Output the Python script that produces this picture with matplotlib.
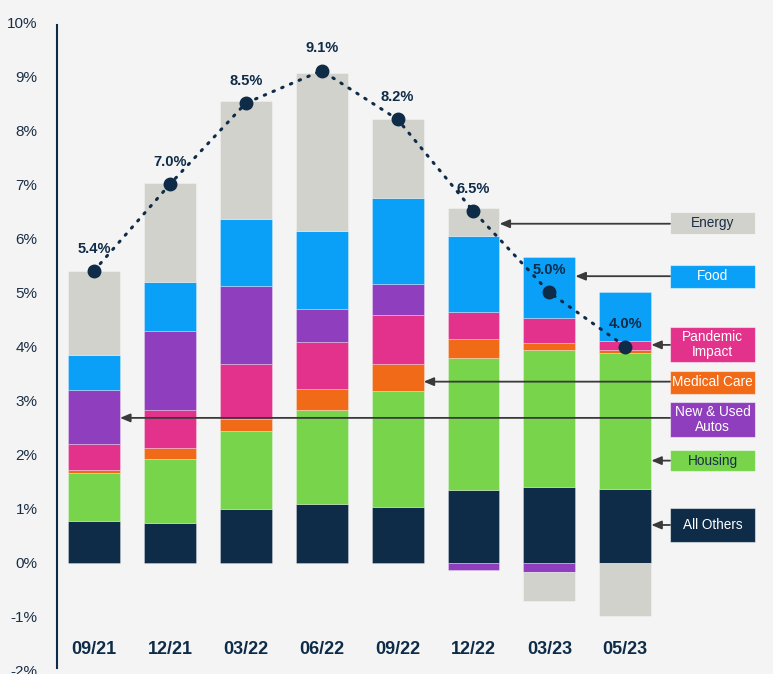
import numpy as np
import matplotlib
matplotlib.use("Agg")
import matplotlib.pyplot as plt
from matplotlib.patches import Rectangle

plt.rcParams['font.family'] = ['Liberation Sans', 'DejaVu Sans']

# data (percentage-point contributions to CPI)
periods = ['09/21', '12/21', '03/22', '06/22', '09/22', '12/22', '03/23', '05/23']
all_others = [0.77, 0.73, 0.99, 1.08, 1.04, 1.35, 1.40, 1.37]
housing    = [0.90, 1.19, 1.44, 1.75, 2.13, 2.43, 2.54, 2.51]
medical    = [0.04, 0.20, 0.23, 0.39, 0.51, 0.35, 0.12, 0.06]
pandemic   = [0.48, 0.70, 1.01, 0.86, 0.90, 0.51, 0.47, 0.16]
autos      = [1.00, 1.47, 1.45, 0.61, 0.58, -0.14, -0.17, 0.00]
food       = [0.65, 0.90, 1.24, 1.44, 1.58, 1.41, 1.13, 0.90]
energy     = [1.55, 1.83, 2.18, 2.93, 1.46, 0.52, -0.54, -0.98]
headline   = [5.4, 7.0, 8.5, 9.1, 8.2, 6.5, 5.0, 4.0]

series_names = ['All Others', 'Housing', 'Medical Care', 'Pandemic\nImpact',
                'New & Used\nAutos', 'Food', 'Energy']
series = [all_others, housing, medical, pandemic, autos, food, energy]
colors = ['#0e2b47', '#77d44b', '#f06a18', '#e2328c', '#8f3fbd', '#0aa0f8', '#d2d2cc']
text_colors = ['white', '#1b2e45', 'white', 'white', 'white', 'white', '#1b2e45']

navy = '#0e2b47'
bg = '#f4f4f4'

fig = plt.figure(figsize=(7.73, 6.74), dpi=100, facecolor=bg)
ax = fig.add_axes([57 / 773, 3 / 674, 716 / 773, 649 / 674])
ax.set_facecolor(bg)

x = np.arange(len(periods))
w = 0.685
pos_base = np.zeros(len(periods))
neg_base = np.zeros(len(periods))
for vals, c in zip(series, colors):
    vals = np.array(vals)
    bottom = np.where(vals >= 0, pos_base, neg_base)
    ax.bar(x, vals, w, bottom=bottom, color=c, edgecolor=(1, 1, 1, 0.35),
           linewidth=0.6, zorder=2)
    pos_base += np.where(vals >= 0, vals, 0)
    neg_base += np.where(vals < 0, vals, 0)

# headline CPI line
ax.plot(x, headline, color=navy, linestyle=(0, (0.5, 2.6)), linewidth=2.2,
        dash_capstyle='round', zorder=4)
ax.plot(x, headline, 'o', color=navy, markersize=9, zorder=5)
for xi, v in zip(x, headline):
    ax.annotate(f'{v:.1f}%', (xi, v), xytext=(0, 16), textcoords='offset points',
                ha='center', va='center', fontsize=10.5, fontweight='bold',
                color=navy, zorder=6)

# category labels
for xi, p in zip(x, periods):
    ax.text(xi, -1.6, p, ha='center', va='center', fontsize=13,
            fontweight='bold', color=navy)

# legend boxes with arrows
box_x0, box_x1 = 7.589, 8.709
box_y = [0.70, 1.89, 3.34, 4.04, 2.65, 5.30, 6.28]
box_h = [0.63, 0.39, 0.43, 0.65, 0.65, 0.43, 0.41]
arrow_bar = [7, 7, 4, 7, 0, 6, 5]
arrow_y = [0.70, 1.89, 3.35, 4.03, 2.68, 5.30, 6.27]
for name, c, tc, by, bh, ab, ay in zip(series_names, colors, text_colors,
                                        box_y, box_h, arrow_bar, arrow_y):
    ax.add_patch(Rectangle((box_x0, by - bh / 2), box_x1 - box_x0, bh,
                           facecolor=c, edgecolor=(1, 1, 1, 0.5), linewidth=0.8,
                           zorder=3))
    ax.text((box_x0 + box_x1) / 2, by, name, ha='center', va='center',
            fontsize=9.8, color=tc, linespacing=1.08, zorder=4)
    ax.annotate('', xy=(ab + w / 2, ay), xytext=(box_x0, ay),
                arrowprops=dict(arrowstyle='-|>,head_length=0.6,head_width=0.25',
                                color='#3a3a3a', lw=1.3, shrinkA=0, shrinkB=0),
                zorder=3.5)

ax.set_xlim(-0.4875, 8.946)
ax.set_ylim(-2, 10)
ax.set_yticks(np.arange(-2, 11, 1))
ax.set_yticklabels([f'{t}%' for t in range(-2, 11)])
ax.tick_params(axis='y', length=0, pad=14, labelsize=11, labelcolor='#1b2e45')
ax.set_xticks([])
for s in ['top', 'right', 'bottom']:
    ax.spines[s].set_visible(False)
ax.spines['left'].set_color(navy)
ax.spines['left'].set_linewidth(1.5)
ax.spines['left'].set_bounds(-1.95, 9.95)

fig.savefig('out.png', dpi=100, facecolor=bg)
